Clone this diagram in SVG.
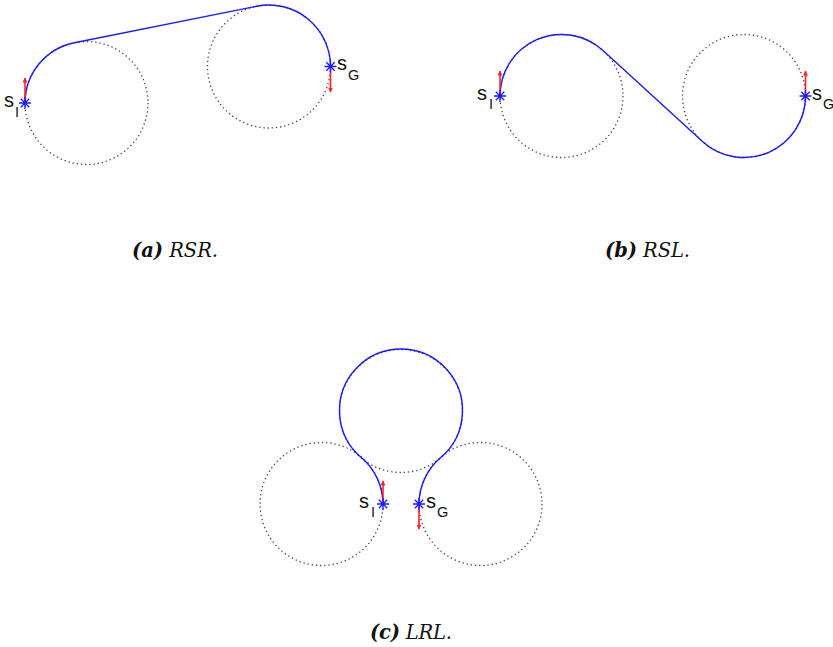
<svg xmlns="http://www.w3.org/2000/svg" width="833" height="647" viewBox="0 0 833 647">
<style>
.dot{fill:none;stroke:#444;stroke-width:1.3;stroke-dasharray:1.3 2.9}
.path{fill:none;stroke:#1a1aff;stroke-width:1.4}
.arr{fill:none;stroke:#ff2020;stroke-width:1.6}
.star{fill:none;stroke:#1a1aff;stroke-width:1.3}
.lbl{font-family:"Liberation Sans",Arial,sans-serif;fill:#111}
.s{font-size:20px}
.sub{font-size:14.5px}
.cap{font-family:"DejaVu Serif","Liberation Serif",serif;font-size:19.5px;font-style:italic;fill:#111}
.b{font-weight:bold}
</style>
<defs>
<path id="ast" d="M-6,0H6M0,-6V6M-4.2,-4.2L4.2,4.2M-4.2,4.2L4.2,-4.2"/>
<marker id="ah" viewBox="0 0 10 10" refX="9" refY="5" markerWidth="5" markerHeight="5" orient="auto" markerUnits="userSpaceOnUse">
<path d="M0,0L10,5L0,10z" fill="#ff2020"/>
</marker>
</defs>

<g id="fig-a">
<circle class="dot" cx="86.5" cy="103" r="61.5"/>
<circle class="dot" cx="269" cy="66.5" r="61.5"/>
<path class="path" d="M25,103A61.5,61.5 0 0 1 74.4,42.7L256.9,6.2A61.5,61.5 0 0 1 330.5,66.5"/>
<line class="arr" x1="25" y1="103" x2="25" y2="78" marker-end="url(#ah)"/>
<line class="arr" x1="330.5" y1="66.5" x2="330.5" y2="92" marker-end="url(#ah)"/>
<use href="#ast" x="25" y="103" class="star"/>
<use href="#ast" x="330.5" y="66.5" class="star"/>
<text class="lbl s" x="4" y="107">s</text><text class="lbl sub" x="15" y="117">I</text>
<text class="lbl s" x="337" y="70">s</text><text class="lbl sub" x="348" y="80">G</text>
<text class="cap" x="132" y="257" textLength="86" lengthAdjust="spacing"><tspan class="b">(a)</tspan> RSR.</text>
</g>

<g id="fig-b">
<circle class="dot" cx="561.5" cy="96" r="61.5"/>
<circle class="dot" cx="744" cy="96" r="61.5"/>
<path class="path" d="M500,96A61.5,61.5 0 0 1 603,50.6L702.5,141.4A61.5,61.5 0 0 0 805.5,96"/>
<line class="arr" x1="500" y1="96" x2="500" y2="71" marker-end="url(#ah)"/>
<line class="arr" x1="805.5" y1="96" x2="805.5" y2="71" marker-end="url(#ah)"/>
<use href="#ast" x="500" y="96" class="star"/>
<use href="#ast" x="805.5" y="96" class="star"/>
<text class="lbl s" x="477" y="100">s</text><text class="lbl sub" x="489" y="109">I</text>
<text class="lbl s" x="812" y="100">s</text><text class="lbl sub" x="823" y="109">G</text>
<text class="cap" x="605" y="257" textLength="85" lengthAdjust="spacing"><tspan class="b">(b)</tspan> RSL.</text>
</g>

<g id="fig-c">
<circle class="dot" cx="321.5" cy="504" r="61.5"/>
<circle class="dot" cx="480.5" cy="504" r="61.5"/>
<circle class="dot" cx="401" cy="411" r="61.5"/>
<path class="path" d="M383,504A61.5,61.5 0 0 0 361.25,457.5A61.5,61.5 0 1 1 440.75,457.5A61.5,61.5 0 0 0 419,504"/>
<line class="arr" x1="383" y1="504" x2="383" y2="481" marker-end="url(#ah)"/>
<line class="arr" x1="419" y1="504" x2="419" y2="529" marker-end="url(#ah)"/>
<use href="#ast" x="383" y="504" class="star"/>
<use href="#ast" x="419" y="504" class="star"/>
<text class="lbl s" x="359" y="508">s</text><text class="lbl sub" x="371" y="517">I</text>
<text class="lbl s" x="426" y="508">s</text><text class="lbl sub" x="437" y="517">G</text>
<text class="cap" x="370" y="639" textLength="82" lengthAdjust="spacing"><tspan class="b">(c)</tspan> LRL.</text>
</g>
</svg>
